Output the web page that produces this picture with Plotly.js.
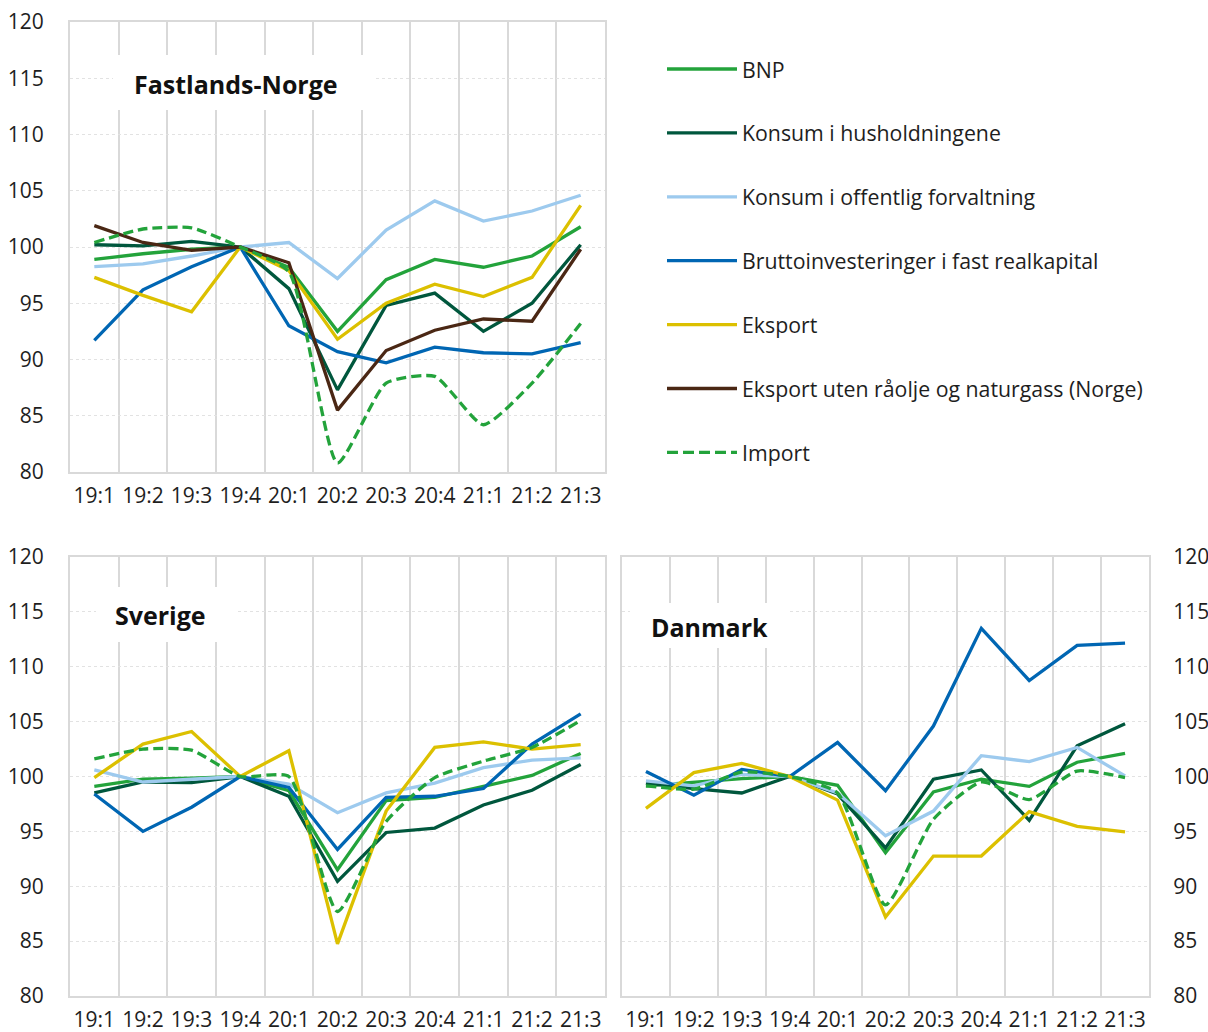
<!DOCTYPE html>
<html>
<head>
<meta charset="utf-8">
<script src="https://cdn.plot.ly/plotly-3.0.1.min.js"></script>
<style>
  html, body { margin: 0; padding: 0; background: #ffffff; }
  #chart { width: 1208px; height: 1032px; }
</style>
</head>
<body>
<div id="chart"></div>
<script>
// ---- Data ----
const quarters = ['19:1','19:2','19:3','19:4','20:1','20:2','20:3','20:4','21:1','21:2','21:3'];

const seriesNames = [
  'BNP',
  'Konsum i husholdningene',
  'Konsum i offentlig forvaltning',
  'Bruttoinvesteringer i fast realkapital',
  'Eksport',
  'Eksport uten råolje og naturgass (Norge)',
  'Import'
];

const panelTitles = ['Fastlands-Norge', 'Sverige', 'Danmark'];

// Fastlands-Norge
const norgeBnp         = [98.9, 99.4, 99.8, 100, 98.2, 92.5, 97.1, 98.9, 98.2, 99.2, 101.8];
const norgeHush        = [100.2, 100.1, 100.5, 100, 96.3, 87.3, 94.8, 95.9, 92.5, 95.0, 100.2];
const norgeOff         = [98.25, 98.5, 99.2, 100, 100.4, 97.2, 101.5, 104.1, 102.3, 103.2, 104.6];
const norgeBrutto      = [91.7, 96.2, 98.25, 100, 93.0, 90.7, 89.7, 91.1, 90.6, 90.5, 91.5];
const norgeEksport     = [97.3, 95.7, 94.25, 100, 97.9, 91.8, 95.0, 96.7, 95.6, 97.3, 103.7];
const norgeEksportUten = [101.9, 100.4, 99.7, 100, 98.6, 85.5, 90.8, 92.6, 93.6, 93.4, 99.8];
const norgeImport      = [100.4, 101.6, 101.7, 100, 97.8, 80.8, 87.9, 88.5, 84.2, 87.9, 93.2];

// Sverige
const sverigeBnp     = [99.1, 99.75, 99.85, 100, 98.7, 91.5, 97.8, 98.1, 99.1, 100.1, 102.1];
const sverigeHush    = [98.5, 99.5, 99.45, 100, 98.2, 90.45, 94.9, 95.3, 97.4, 98.75, 101.1];
const sverigeOff     = [100.6, 99.5, 99.75, 100, 99.3, 96.7, 98.5, 99.4, 100.8, 101.5, 101.7];
const sverigeBrutto  = [98.4, 95.0, 97.2, 100, 99.0, 93.35, 98.1, 98.2, 98.9, 102.95, 105.7];
const sverigeEksport = [99.9, 102.95, 104.1, 100, 102.35, 84.75, 96.85, 102.65, 103.15, 102.5, 102.9];
const sverigeImport  = [101.6, 102.5, 102.4, 100, 100.0, 87.7, 95.9, 99.9, 101.4, 102.65, 105.1];

// Danmark
const danmarkBnp     = [99.15, 99.45, 99.8, 100, 99.2, 93.05, 98.6, 99.75, 99.1, 101.3, 102.1];
const danmarkHush    = [99.4, 98.9, 98.5, 100, 98.4, 93.5, 99.75, 100.6, 96.0, 102.8, 104.8];
const danmarkOff     = [99.6, 99.15, 100.2, 100, 98.5, 94.6, 96.85, 101.9, 101.35, 102.65, 100.05];
const danmarkBrutto  = [100.45, 98.3, 100.65, 100, 103.1, 98.7, 104.6, 113.5, 108.75, 111.95, 112.15];
const danmarkEksport = [97.1, 100.35, 101.2, 100, 97.85, 87.2, 92.75, 92.75, 96.8, 95.45, 94.95];
const danmarkImport  = [99.15, 98.85, 100.4, 100, 98.5, 88.3, 96.1, 99.5, 97.9, 100.5, 99.9];

// ---- Styles ----
const colors = ['#23a33b', '#00573d', '#9dcaee', '#0066b3', '#dcc000', '#4a2714', '#23a33b'];
const dashes = ['solid', 'solid', 'solid', 'solid', 'solid', 'solid', '10px,5px'];

const W = 1208, H = 1032;
const px = x => x / W;
const py = y => 1 - y / H;

const panels = [
  { xa: 'x',  ya: 'y',  series: [norgeBnp, norgeHush, norgeOff, norgeBrutto, norgeEksport, norgeEksportUten, norgeImport] },
  { xa: 'x2', ya: 'y2', series: [sverigeBnp, sverigeHush, sverigeOff, sverigeBrutto, sverigeEksport, null, sverigeImport] },
  { xa: 'x3', ya: 'y3', series: [danmarkBnp, danmarkHush, danmarkOff, danmarkBrutto, danmarkEksport, null, danmarkImport] }
];

const traces = [];
panels.forEach(p => {
  p.series.forEach((vals, i) => {
    if (!vals) return;
    const isImport = i === 6;
    const line = { color: colors[i], width: 3.3, dash: dashes[i], shape: isImport ? 'spline' : 'linear' };
    if (isImport) line.smoothing = 0.55;
    traces.push({
      type: 'scatter',
      mode: 'lines',
      x: quarters,
      y: vals,
      name: seriesNames[i],
      xaxis: p.xa,
      yaxis: p.ya,
      showlegend: false,
      hoverinfo: 'skip',
      line: line
    });
  });
});

const fontFamily = '"Open Sans", "Noto Sans", sans-serif';
const textColor = '#1e1e1e';

function xAxis(domain, anchor) {
  return {
    domain: domain, anchor: anchor,
    type: 'category', range: [-0.5, 10.5],
    tickson: 'boundaries',
    tickangle: 0,
    showgrid: true, gridcolor: '#d9d9d9', gridwidth: 2,
    showline: true, mirror: true, linecolor: '#d9d9d9', linewidth: 2,
    ticks: '', ticklabelstandoff: 4,
    tickfont: { size: 21, color: textColor, family: fontFamily },
    zeroline: false, fixedrange: true
  };
}
function yAxis(domain, anchor, side) {
  return {
    domain: domain, anchor: anchor, side: side,
    range: [80, 120], tick0: 80, dtick: 5,
    showgrid: true, gridcolor: '#e2e2e2', gridwidth: 1, griddash: '3px,3px',
    showline: true, mirror: true, linecolor: '#d9d9d9', linewidth: 2,
    ticks: '', ticklabelstandoff: side === 'right' ? 18 : 20,
    tickfont: { size: 21, color: textColor, family: fontFamily },
    zeroline: false, fixedrange: true
  };
}

const topY = [py(472), py(22)];
const botY = [py(996), py(557)];
const leftX = [px(70), px(605)];
const rightX = [px(622), px(1149)];

const shapes = [];
const annotations = [];

// Panel title boxes
const titleBoxes = [
  { x0: 113, x1: 375, y0: 55, y1: 110, tx: 132, ty: 84 },
  { x0: 96, x1: 236, y0: 587, y1: 642, tx: 113, ty: 615 },
  { x0: 630, x1: 790, y0: 603, y1: 648, tx: 649, ty: 627 }
];
titleBoxes.forEach((b, i) => {
  shapes.push({
    type: 'rect', xref: 'paper', yref: 'paper', layer: 'above',
    x0: px(b.x0), x1: px(b.x1), y0: py(b.y1), y1: py(b.y0),
    fillcolor: '#ffffff', line: { width: 0 }
  });
  annotations.push({
    xref: 'paper', yref: 'paper', x: px(b.tx), y: py(b.ty),
    xanchor: 'left', yanchor: 'middle', showarrow: false,
    text: '<b>' + panelTitles[i] + '</b>',
    font: { size: 25, color: '#111111', family: fontFamily }
  });
});

// Legend (top right)
seriesNames.forEach((name, i) => {
  const yy = 69 + i * 63.9;
  shapes.push({
    type: 'line', xref: 'paper', yref: 'paper', layer: 'above',
    x0: px(667), x1: px(737), y0: py(yy), y1: py(yy),
    line: { color: colors[i], width: 3.3, dash: i === 6 ? '11px,5px' : 'solid' }
  });
  annotations.push({
    xref: 'paper', yref: 'paper', x: px(740), y: py(yy),
    xanchor: 'left', yanchor: 'middle', showarrow: false,
    text: name,
    font: { size: 21.3, color: textColor, family: fontFamily }
  });
});

const layout = {
  width: W, height: H,
  margin: { l: 0, r: 0, t: 0, b: 0 },
  paper_bgcolor: '#ffffff', plot_bgcolor: '#ffffff',
  font: { family: fontFamily, size: 21, color: textColor },
  showlegend: false,
  xaxis: xAxis(leftX, 'y'),
  yaxis: yAxis(topY, 'x', 'left'),
  xaxis2: xAxis(leftX, 'y2'),
  yaxis2: yAxis(botY, 'x2', 'left'),
  xaxis3: xAxis(rightX, 'y3'),
  yaxis3: yAxis(botY, 'x3', 'right'),
  shapes: shapes,
  annotations: annotations
};

Plotly.newPlot('chart', traces, layout, { staticPlot: true, displayModeBar: false });
</script>
</body>
</html>
